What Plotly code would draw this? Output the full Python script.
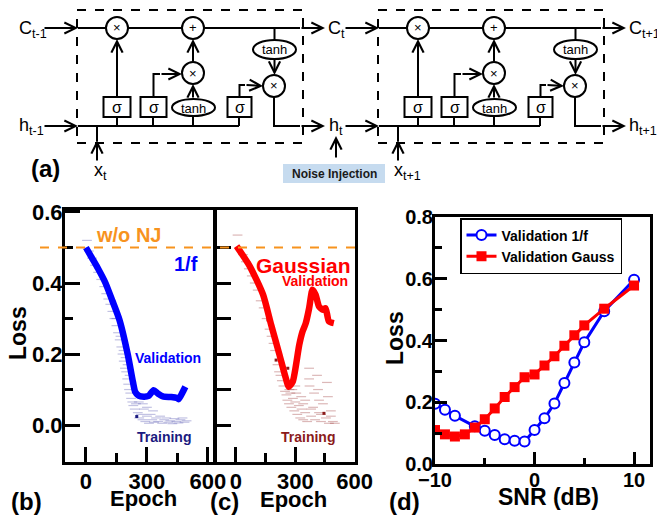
import plotly.graph_objects as go

W, H = 657, 516

# ---------------- data ----------------
# (b) 1/f noise injection: validation curve
val_b_epoch = [0, 30, 60, 96, 130, 165, 206, 231, 242, 259, 285, 308, 333, 355, 382, 420, 448, 456, 475, 489]
val_b_loss = [0.50, 0.47, 0.44, 0.40, 0.35, 0.296, 0.198, 0.122, 0.094, 0.083, 0.080, 0.082, 0.098, 0.088, 0.080, 0.079, 0.076, 0.073, 0.092, 0.108]
# (b) training (scattered)
tr_b_epoch = [5, 15, 30, 45, 60, 75, 90, 100, 110, 120, 130, 140, 150, 158, 166, 174, 180, 186, 192, 198,
              203, 208, 212, 218, 222, 228, 233, 240, 246, 255, 262, 270, 278, 285, 292, 300, 310, 318,
              326, 335, 345, 355, 365, 375, 385, 395, 405, 415, 425, 435, 445, 455, 465, 475, 485, 495,
              300, 330, 260, 280, 150, 170, 185, 195, 205, 215]
tr_b_loss = [0.52, 0.49, 0.47, 0.45, 0.43, 0.41, 0.39, 0.37, 0.355, 0.34, 0.32, 0.30, 0.28, 0.26, 0.24, 0.22, 0.20, 0.18, 0.16, 0.15,
             0.13, 0.115, 0.10, 0.09, 0.075, 0.065, 0.055, 0.045, 0.06, 0.035, 0.02, 0.03, 0.015, 0.045, 0.01, 0.025, 0.005, 0.03,
             0.015, 0.008, 0.02, 0.01, 0.025, 0.005, 0.015, 0.02, 0.008, 0.012, 0.004, 0.018, 0.01, 0.006, 0.015, 0.02, 0.008, 0.012,
             0.05, 0.04, 0.065, 0.06, 0.30, 0.25, 0.21, 0.19, 0.17, 0.14]
tr_b_dark_epoch = [250]
tr_b_dark_loss = [0.024]

# (c) Gaussian noise injection: validation curve
val_c_epoch = [3, 70, 137, 178, 220, 250, 267, 287, 320, 337, 353, 370, 387, 403, 420, 440, 453, 470, 495]
val_c_loss = [0.504, 0.447, 0.367, 0.282, 0.198, 0.136, 0.108, 0.122, 0.226, 0.264, 0.287, 0.329, 0.381, 0.367, 0.334, 0.325, 0.329, 0.292, 0.287]
# (c) training (scattered)
tr_c_epoch = [8, 20, 35, 50, 65, 80, 95, 110, 125, 140, 155, 170, 180, 190, 198, 210, 218, 225, 232, 240,
              248, 255, 260, 268, 275, 280, 288, 295, 300, 310, 318, 325, 332, 340, 350, 360, 370, 370,
              372, 380, 390, 400, 410, 415, 420, 430, 440, 455, 460, 465, 470, 480, 490, 500, 285, 305,
              330, 350, 300, 395, 420, 270, 340, 380, 430, 480]
tr_c_loss = [0.535, 0.50, 0.48, 0.46, 0.44, 0.42, 0.40, 0.38, 0.35, 0.33, 0.30, 0.27, 0.25, 0.23, 0.21, 0.17, 0.15, 0.14, 0.125, 0.11,
             0.095, 0.085, 0.07, 0.06, 0.09, 0.05, 0.075, 0.04, 0.065, 0.03, 0.055, 0.02, 0.045, 0.015, 0.035, 0.01, 0.16, 0.13,
             0.11, 0.025, 0.05, 0.015, 0.14, 0.10, 0.035, 0.01, 0.06, 0.02, 0.12, 0.08, 0.005, 0.025, 0.01, 0.005, 0.10, 0.09,
             0.08, 0.07, 0.11, 0.09, 0.07, 0.10, 0.06, 0.045, 0.03, 0.04]
tr_c_dark_epoch = [162, 203, 262, 445]
tr_c_dark_loss = [0.296, 0.183, 0.16, 0.033]

# (d) loss vs SNR
snr_f = [-10, -9, -8, -6, -5, -4, -3, -2, -1, 0, 1, 2, 3, 4, 5, 7, 10]
loss_f = [0.195, 0.176, 0.156, 0.122, 0.108, 0.094, 0.080, 0.075, 0.073, 0.110, 0.148, 0.196, 0.262, 0.329, 0.394, 0.495, 0.597]
snr_g = [-10, -9, -8, -7, -6, -5, -4, -3, -2, -1, 0, 1, 2, 3, 4, 5, 7, 10]
loss_g = [0.110, 0.096, 0.089, 0.096, 0.118, 0.145, 0.180, 0.217, 0.249, 0.281, 0.290, 0.319, 0.349, 0.383, 0.417, 0.449, 0.503, 0.578]

nj_level = 0.5

epoch_ticks = [0, 300, 600]
epoch_minor = [150, 450]
loss_ticks_b = [0.0, 0.2, 0.4, 0.6]
loss_minor_b = [0.1, 0.3, 0.5]
loss_ticks_c = [0.0, 0.1, 0.2, 0.3, 0.4, 0.5]
snr_ticks = [-10, 0, 10]
snr_minor = [-5, 5]
loss_ticks_d = [0.0, 0.2, 0.4, 0.6, 0.8]
loss_minor_d = [0.1, 0.3, 0.5, 0.7]

# ---------------- helpers ----------------
def px(x):
    return x / W

def py(y):
    return 1 - y / H

FONT = "Liberation Sans"
BLUE = "#0000ff"
RED = "#ff0000"
ORANGE = "#f7931e"
NAVY = "#1a1a80"
DARKRED = "#8b1a1a"

fig = go.Figure()

# training clouds
fig.add_trace(go.Scatter(x=tr_b_epoch, y=tr_b_loss, mode="markers", xaxis="x", yaxis="y",
                         marker=dict(symbol="line-ew", size=7, line=dict(width=1.2, color="rgba(70,70,170,0.33)")),
                         showlegend=False, hoverinfo="skip"))
fig.add_trace(go.Scatter(x=tr_b_dark_epoch, y=tr_b_dark_loss, mode="markers", xaxis="x", yaxis="y",
                         marker=dict(symbol="square", size=3, color=NAVY), showlegend=False, hoverinfo="skip"))
fig.add_trace(go.Scatter(x=val_b_epoch, y=val_b_loss, mode="lines", xaxis="x", yaxis="y",
                         line=dict(color=BLUE, width=6.5, shape="spline", smoothing=0.6), showlegend=False))

fig.add_trace(go.Scatter(x=tr_c_epoch, y=tr_c_loss, mode="markers", xaxis="x2", yaxis="y2",
                         marker=dict(symbol="line-ew", size=7, line=dict(width=1.2, color="rgba(150,40,40,0.33)")),
                         showlegend=False, hoverinfo="skip"))
fig.add_trace(go.Scatter(x=tr_c_dark_epoch, y=tr_c_dark_loss, mode="markers", xaxis="x2", yaxis="y2",
                         marker=dict(symbol="square", size=3, color=DARKRED), showlegend=False, hoverinfo="skip"))
fig.add_trace(go.Scatter(x=val_c_epoch, y=val_c_loss, mode="lines", xaxis="x2", yaxis="y2",
                         line=dict(color=RED, width=6.5, shape="spline", smoothing=0.6), showlegend=False))

fig.add_trace(go.Scatter(x=snr_f, y=loss_f, mode="lines+markers", xaxis="x3", yaxis="y3",
                         name="Validation 1/f",
                         line=dict(color=BLUE, width=3),
                         marker=dict(symbol="circle", size=10, color="white", line=dict(color=BLUE, width=2))))
fig.add_trace(go.Scatter(x=snr_g, y=loss_g, mode="lines+markers", xaxis="x3", yaxis="y3",
                         name="Validation Gauss",
                         line=dict(color=RED, width=3),
                         marker=dict(symbol="square", size=10, color=RED)))

axis_common = dict(showline=True, linewidth=3, linecolor="black", mirror=True, ticks="inside",
                   tickwidth=3, tickcolor="black", showgrid=False, zeroline=False,
                   tickfont=dict(family=FONT, size=22, color="black", weight="bold"))
font_d = dict(family=FONT, size=20, color="black", weight="bold")

def minor(vals, ln):
    return dict(tickvals=vals, ticklen=ln, tickwidth=3, ticks="inside", tickcolor="black", showgrid=False)

fig.update_layout(
    width=W, height=H, margin=dict(l=0, r=0, t=0, b=0, autoexpand=False),
    paper_bgcolor="white", plot_bgcolor="rgba(0,0,0,0)",
    xaxis=dict(axis_common, domain=[px(65), px(213)], range=[-103, 625], anchor="y",
               tickvals=epoch_ticks, ticklen=15, ticklabelstandoff=-2, minor=minor(epoch_minor, 9)),
    yaxis=dict(axis_common, domain=[py(462), py(210)], range=[-0.104, 0.6056], anchor="x",
               tickvals=loss_ticks_b, ticktext=["0.0", "0.2", "0.4", "0.6"], ticklen=15,
               ticklabelstandoff=-5, minor=minor(loss_minor_b, 8)),
    xaxis2=dict(axis_common, domain=[px(217), px(355)], range=[-96, 602], anchor="y2",
                tickvals=epoch_ticks, ticklen=15, ticklabelstandoff=-2, minor=minor(epoch_minor, 9)),
    yaxis2=dict(axis_common, domain=[py(462), py(210)], range=[-0.104, 0.6056], anchor="x2",
                tickvals=loss_ticks_c, ticklen=14, showticklabels=False),
    xaxis3=dict(axis_common, domain=[px(435), px(650)], range=[-10, 11.6], anchor="y3",
                tickvals=snr_ticks, ticklen=12, tickfont=font_d, ticklabelstandoff=-4,
                minor=minor(snr_minor, 6)),
    yaxis3=dict(axis_common, domain=[py(464), py(217)], range=[0, 0.8], anchor="x3",
                tickvals=loss_ticks_d, ticktext=["0.0", "0.2", "0.4", "0.6", "0.8"], ticklen=12,
                tickfont=font_d, ticklabelstandoff=-5,
                minor=minor(loss_minor_d, 7)),
    legend=dict(x=px(460), y=py(218), xanchor="left", yanchor="top",
                bordercolor="black", borderwidth=1.5, bgcolor="white",
                font=dict(family=FONT, size=14, color="black", weight="bold"),
                tracegroupgap=0, itemwidth=30),
    showlegend=True,
)

shapes = []
annots = []

# orange "w/o NJ" reference line spanning panels b and c
shapes.append(dict(type="line", xref="paper", yref="y", x0=px(40), x1=px(355), y0=nj_level, y1=nj_level,
                   line=dict(color=ORANGE, width=2, dash="dash"), layer="above"))

def T(x, y, text, size=14, color="black", bold=False, xanchor="center", yanchor="middle", textangle=0):
    annots.append(dict(xref="paper", yref="paper", x=px(x), y=py(y), text=text, showarrow=False,
                       font=dict(family=FONT, size=size, color=color, weight="bold" if bold else "normal"),
                       xanchor=xanchor, yanchor=yanchor, textangle=textangle))

def L(pts, width=2, dash="solid"):
    path = "M " + " L ".join(f"{px(x)},{py(y)}" for x, y in pts)
    shapes.append(dict(type="path", xref="paper", yref="paper", path=path,
                       line=dict(color="black", width=width, dash=dash), layer="above"))

def A(x0, y0, x1, y1):
    annots.append(dict(xref="paper", yref="paper", x=px(x1), y=py(y1), ax=x0 - x1, ay=y0 - y1,
                       text="", showarrow=True, arrowhead=5, arrowsize=1.1, arrowwidth=2, arrowcolor="black",
                       standoff=0, startstandoff=0))

def rect_shape(kind, x0, x1, y0, y1, fill="white", lw=2, dash="solid", color="black"):
    shapes.append(dict(type=kind, xref="paper", yref="paper", x0=px(x0), x1=px(x1), y0=py(y1), y1=py(y0),
                       fillcolor=fill, line=dict(color=color, width=lw, dash=dash), layer="above"))

def circle(cx, cy, r, sym):
    rect_shape("circle", cx - r, cx + r, cy - r, cy + r)
    T(cx, cy, sym, size=13)

def ellipse(cx, cy, w, h, txt):
    rect_shape("circle", cx - w / 2, cx + w / 2, cy - h / 2, cy + h / 2)
    T(cx, cy + 0.5, txt, size=13)

def box(cx, cy, w, h, txt):
    rect_shape("rect", cx - w / 2, cx + w / 2, cy - h / 2, cy + h / 2)
    T(cx, cy, txt, size=16)

def cell(dx):
    rect_shape("rect", 77 + dx, 303 + dx, 10, 143, fill="rgba(0,0,0,0)", dash="dash")
    A(43 + dx, 28, 78 + dx, 28)
    L([(78 + dx, 28), (300 + dx, 28)])
    A(300 + dx, 28, 325 + dx, 28)
    A(43 + dx, 126, 78 + dx, 126)
    L([(78 + dx, 126), (239 + dx, 126)])
    A(97 + dx, 162, 97 + dx, 140)
    L([(97 + dx, 141), (97 + dx, 126)])
    L([(117 + dx, 126), (117 + dx, 110)])
    A(117 + dx, 98, 117 + dx, 39)
    L([(153 + dx, 126), (153 + dx, 110)])
    L([(153.5 + dx, 98), (153.5 + dx, 74), (160 + dx, 74)])
    A(160 + dx, 74, 182 + dx, 74)
    L([(193 + dx, 126), (193 + dx, 110)])
    A(193 + dx, 99, 193 + dx, 84)
    A(193 + dx, 63, 193 + dx, 39)
    L([(239 + dx, 126), (239 + dx, 110)])
    L([(239.5 + dx, 98), (239.5 + dx, 85), (245 + dx, 85)])
    A(245 + dx, 85, 263 + dx, 86)
    L([(274.5 + dx, 28), (274.5 + dx, 45)])
    A(274.5 + dx, 58, 274.5 + dx, 75)
    L([(274 + dx, 96), (274 + dx, 126), (300 + dx, 126)])
    A(300 + dx, 126, 325 + dx, 126)
    circle(117 + dx, 28, 11, "×")
    circle(193 + dx, 28, 11, "+")
    circle(193 + dx, 73, 11, "×")
    circle(274 + dx, 86, 11, "×")
    ellipse(274.5 + dx, 49.5, 43, 19, "tanh")
    ellipse(193.5 + dx, 107.5, 43, 17, "tanh")
    box(117 + dx, 107, 27, 20, "σ")
    box(153.5 + dx, 107, 26, 20, "σ")
    box(239.5 + dx, 107, 24, 20, "σ")

cell(0)
cell(301)

# diagram labels
T(17, 30, "C<sub>t-1</sub>", size=18, xanchor="left")
T(17, 126, "h<sub>t-1</sub>", size=18, xanchor="left")
T(92, 172, "x<sub>t</sub>", size=18, xanchor="left")
T(326, 30, "C<sub>t</sub>", size=18, xanchor="left")
T(327, 126, "h<sub>t</sub>", size=18, xanchor="left")
T(392, 172, "x<sub>t+1</sub>", size=18, xanchor="left")
T(627, 30, "C<sub>t+1</sub>", size=18, xanchor="left")
T(627, 126, "h<sub>t+1</sub>", size=18, xanchor="left")
rect_shape("rect", 283, 385, 164, 183, fill="#c6dbef", lw=0, color="#c6dbef")
T(334, 174, "Noise Injection", size=12, bold=True, color="#1a1a1a")
A(336, 159, 336, 136)
T(45, 168, "(a)", size=24, bold=True)

# panel texts
T(128, 235, "w/o NJ", size=20, bold=True, color=ORANGE)
T(200, 264, "1/f", size=20, bold=True, color=BLUE, xanchor="right")
T(168, 358, "Validation", size=14, bold=True, color=BLUE)
T(164, 437, "Training", size=14, bold=True, color=NAVY)
T(303, 265, "Gaussian", size=21, bold=True, color=RED)
T(315, 281, "Validation", size=14, bold=True, color=RED)
T(308, 437, "Training", size=14, bold=True, color=DARKRED)

# axis titles and panel labels
T(18, 333, "Loss", size=23, bold=True, textangle=-90)
T(143, 498, "Epoch", size=22, bold=True)
T(293, 499, "Epoch", size=22, bold=True)
T(395, 338, "Loss", size=23, bold=True, textangle=-90)
T(548, 497, "SNR (dB)", size=23, bold=True)
T(26, 501, "(b)", size=24, bold=True)
T(224, 501, "(c)", size=24, bold=True)
T(404, 501, "(d)", size=24, bold=True)

fig.update_layout(shapes=shapes, annotations=annots)
fig.write_html("out.html",
               post_script="document.body.style.margin='0';document.body.style.overflow='hidden';"
                           "document.documentElement.style.overflow='hidden';")
